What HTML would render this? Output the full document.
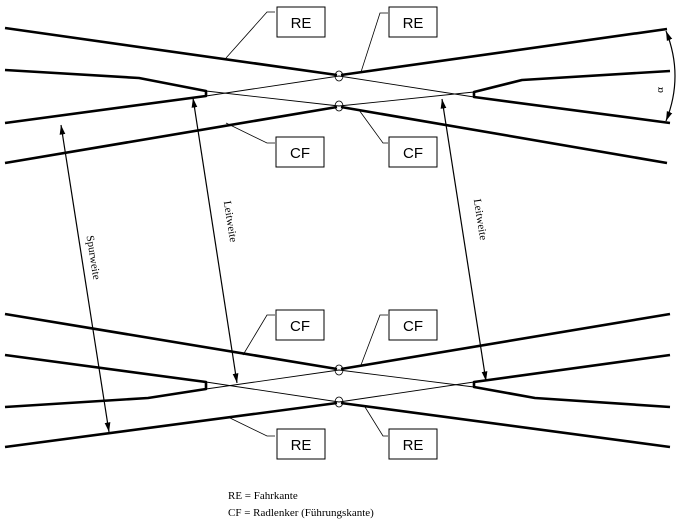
<!DOCTYPE html>
<html><head><meta charset="utf-8"><style>
html,body{margin:0;padding:0;background:#fff;}
svg{display:block;}
.t{stroke:#000;stroke-width:2.6;fill:none;stroke-linejoin:round}
.n{stroke:#000;stroke-width:0.9;fill:none}
.l{stroke:#000;stroke-width:0.8;fill:none}
.b{fill:#fff;stroke:#000;stroke-width:1}
.bt{font-family:"Liberation Sans",sans-serif;font-size:15px;text-anchor:middle}
.s{font-family:"Liberation Serif",serif;font-size:11px}
</style></head><body>
<svg width="685" height="523" viewBox="0 0 685 523" xmlns="http://www.w3.org/2000/svg">
<defs><marker id="a" viewBox="0 0 10 10" refX="10" refY="5" markerWidth="8" markerHeight="8" orient="auto-start-reverse"><path d="M0,2 L10,5 L0,8 z"/></marker></defs>
<!-- TOP BLOCK -->
<path class="t" d="M5,28 L337,75"/>
<path class="t" d="M341,75 L667,29"/>
<path class="t" d="M5,163 L337,107"/>
<path class="t" d="M341,107 L667,163"/>
<path class="t" d="M5,70 L139,78 L206,91 L206,96 L5,123"/>
<path class="t" d="M670,71 L522,80 L474,92 L474,97 L670,123"/>
<path class="n" d="M206,96 L339,76 L474,97"/>
<path class="n" d="M206,91 L339,106 L474,92"/>
<ellipse cx="339" cy="76" rx="4" ry="5" class="l"/>
<ellipse cx="339" cy="106" rx="4" ry="5" class="l"/>
<!-- BOTTOM BLOCK -->
<path class="t" d="M5,314 L337,369"/>
<path class="t" d="M341,369 L670,314"/>
<path class="t" d="M5,447 L337,403"/>
<path class="t" d="M341,403 L670,447"/>
<path class="t" d="M5,355 L206,382 L206,389 L148,398 L5,407"/>
<path class="t" d="M670,355 L474,382 L474,387 L535,398 L670,407"/>
<path class="n" d="M206,382 L339,402 L474,382"/>
<path class="n" d="M206,389 L339,370 L474,387"/>
<ellipse cx="339" cy="370" rx="4" ry="5" class="l"/>
<ellipse cx="339" cy="402" rx="4" ry="5" class="l"/>
<!-- dimension arrows -->
<line x1="61" y1="125" x2="109" y2="432" stroke="#000" stroke-width="1.2" marker-start="url(#a)" marker-end="url(#a)"/>
<line x1="193" y1="98" x2="237" y2="383" stroke="#000" stroke-width="1.2" marker-start="url(#a)" marker-end="url(#a)"/>
<line x1="442" y1="99" x2="486" y2="381" stroke="#000" stroke-width="1.2" marker-start="url(#a)" marker-end="url(#a)"/>
<text class="s" transform="translate(90,258) rotate(81)" text-anchor="middle">Spurweite</text>
<text class="s" transform="translate(227,222) rotate(81)" text-anchor="middle">Leitweite</text>
<text class="s" transform="translate(477,220) rotate(81)" text-anchor="middle">Leitweite</text>
<!-- alpha -->
<path d="M666,31 Q684,76 666,121" fill="none" stroke="#000" stroke-width="1.2" marker-start="url(#a)" marker-end="url(#a)"/>
<text class="s" transform="translate(663,90) rotate(-90)" text-anchor="middle" font-size="13">α</text>
<!-- leaders -->
<path class="l" d="M275,12 L267,12 L226,58"/>
<path class="l" d="M388,13 L380,13 L361,72"/>
<path class="l" d="M275,143 L267,143 L226,123"/>
<path class="l" d="M388,143 L383,143 L359,110"/>
<path class="l" d="M275,315 L267,315 L243,355"/>
<path class="l" d="M388,315 L380,315 L361,365"/>
<path class="l" d="M275,436 L267,436 L230,418"/>
<path class="l" d="M388,436 L383,436 L365,407"/>
<!-- boxes -->
<rect class="b" x="277" y="7" width="48" height="30"/><text class="bt" x="301" y="28">RE</text>
<rect class="b" x="389" y="7" width="48" height="30"/><text class="bt" x="413" y="28">RE</text>
<rect class="b" x="276" y="137" width="48" height="30"/><text class="bt" x="300" y="158">CF</text>
<rect class="b" x="389" y="137" width="48" height="30"/><text class="bt" x="413" y="158">CF</text>
<rect class="b" x="276" y="310" width="48" height="30"/><text class="bt" x="300" y="331">CF</text>
<rect class="b" x="389" y="310" width="48" height="30"/><text class="bt" x="413" y="331">CF</text>
<rect class="b" x="277" y="429" width="48" height="30"/><text class="bt" x="301" y="450">RE</text>
<rect class="b" x="389" y="429" width="48" height="30"/><text class="bt" x="413" y="450">RE</text>
<!-- legend -->
<text class="s" x="228" y="499">RE = Fahrkante</text>
<text class="s" x="228" y="516">CF = Radlenker (Führungskante)</text>
</svg>
</body></html>
